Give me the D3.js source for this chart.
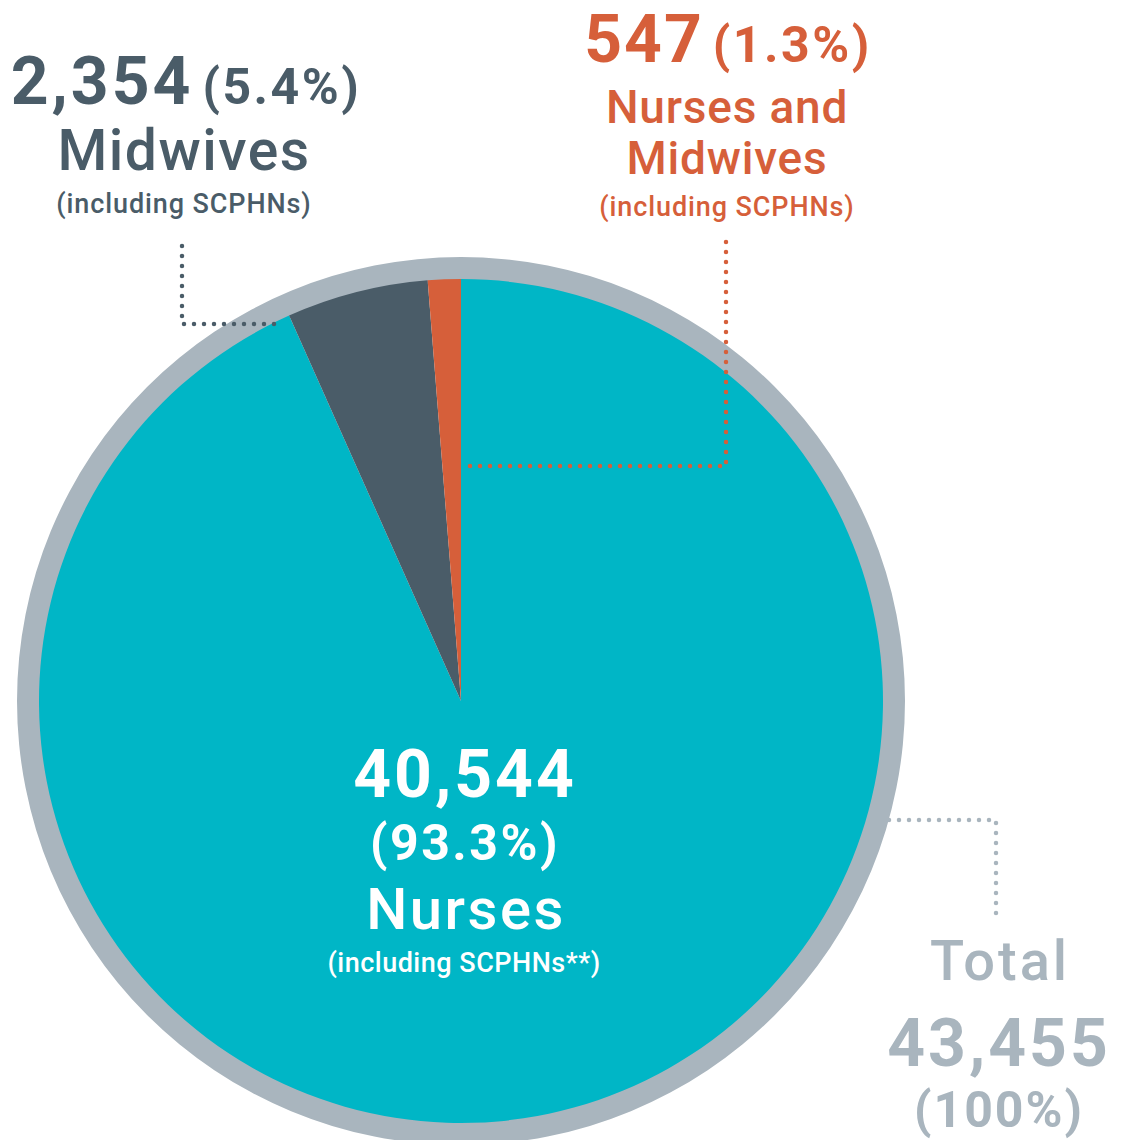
<!DOCTYPE html>
<html><head><meta charset="utf-8">
<script src="https://cdn.jsdelivr.net/npm/d3@7"></script>
<style>html,body{margin:0;padding:0;background:#fff}svg{display:block}</style>
</head><body>
<svg id="c" width="1121" height="1140"></svg>
<script>
const categories = ["Nurses", "Midwives", "Nurses and Midwives"];
const values = [40544, 2354, 547];
const percents = ["93.3%", "5.4%", "1.3%"];
const subLabels = ["(including SCPHNs**)", "(including SCPHNs)", "(including SCPHNs)"];
const totalValue = 43455;
const totalPercent = "100%";
const colors = ["#00b6c6", "#4a5c68", "#d65f3a"];
const ringColor = "#a9b5be";

const svg = d3.select("#c");
const cx = 461, cy = 701, rPie = 422, rRing = 444;
const FONT = "Roboto, 'Open Sans', sans-serif";
const fmt = d3.format(",");

const g = svg.append("g").attr("transform", `translate(${cx},${cy})`);
// ring
g.append("path").attr("d", d3.arc().innerRadius(rPie - 2).outerRadius(rRing)({startAngle: 0, endAngle: 2 * Math.PI})).attr("fill", ringColor);
// pie
const pie = d3.pie().sort(null).startAngle(0).endAngle(2 * Math.PI);
const arcs = pie(values);
const arc = d3.arc().innerRadius(0).outerRadius(rPie);
g.selectAll("path.slice").data(arcs).join("path").attr("class", "slice")
  .attr("d", arc).attr("fill", (d, i) => colors[i]);

// leader lines (dotted)
function dotted(points, color) {
  svg.append("path").attr("d", d3.line()(points)).attr("fill", "none")
    .attr("stroke", color).attr("stroke-width", 4.5).attr("stroke-linecap", "round")
    .attr("stroke-dasharray", "0 10");
}
dotted([[182, 246], [182, 324], [284, 324]], colors[1]);
dotted([[726, 242], [726, 466], [462, 466]], colors[2]);
dotted([[889, 820], [996, 820], [996, 917]], ringColor);

function txt(x, y, parts) {
  const t = svg.append("text").attr("x", x).attr("y", y).attr("text-anchor", "middle")
    .attr("font-family", FONT);
  parts.forEach(p => {
    t.append("tspan").text(p.t).attr("font-size", p.s).attr("font-weight", p.w || 700)
      .attr("fill", p.c).attr("dx", p.dx || 0).attr("letter-spacing", p.ls || 0);
  });
  return t;
}
// Midwives label
txt(186, 104, [{t: fmt(values[1]), s: 66, c: colors[1], ls: 3}, {t: "(" + percents[1] + ")", s: 50, c: colors[1], dx: 9, ls: 2.5}]);
txt(184, 170, [{t: categories[1], s: 57, w: 500, c: colors[1], ls: 1.5}]);
txt(184, 213, [{t: subLabels[1], s: 27, w: 500, c: colors[1], ls: 0.9}]);
// Nurses and Midwives label
txt(728, 62, [{t: fmt(values[2]), s: 66, c: colors[2], ls: 2}, {t: "(" + percents[2] + ")", s: 50, c: colors[2], dx: 9, ls: 2.5}]);
txt(727, 123, [{t: "Nurses and", s: 46, w: 500, c: colors[2], ls: 0.8}]);
txt(727, 174, [{t: "Midwives", s: 46, w: 500, c: colors[2], ls: 0.8}]);
txt(727, 216, [{t: subLabels[2], s: 27, w: 500, c: colors[2], ls: 0.9}]);
// Nurses label
txt(465, 797, [{t: fmt(values[0]), s: 66, c: "#fff", ls: 3}]);
txt(465, 860, [{t: "(" + percents[0] + ")", s: 50, c: "#fff", ls: 2.5}]);
txt(466, 929, [{t: categories[0], s: 58, w: 500, c: "#fff", ls: 2.5}]);
txt(464, 972, [{t: subLabels[0], s: 27, w: 500, c: "#fff", ls: 0.5}]);
// Total
txt(1000, 980, [{t: "Total", s: 56, w: 500, c: ringColor, ls: 3}]);
txt(999, 1066, [{t: fmt(totalValue), s: 66, c: ringColor, ls: 3}]);
txt(999, 1127, [{t: "(" + totalPercent + ")", s: 50, c: ringColor, ls: 2}]);
</script>
</body></html>
